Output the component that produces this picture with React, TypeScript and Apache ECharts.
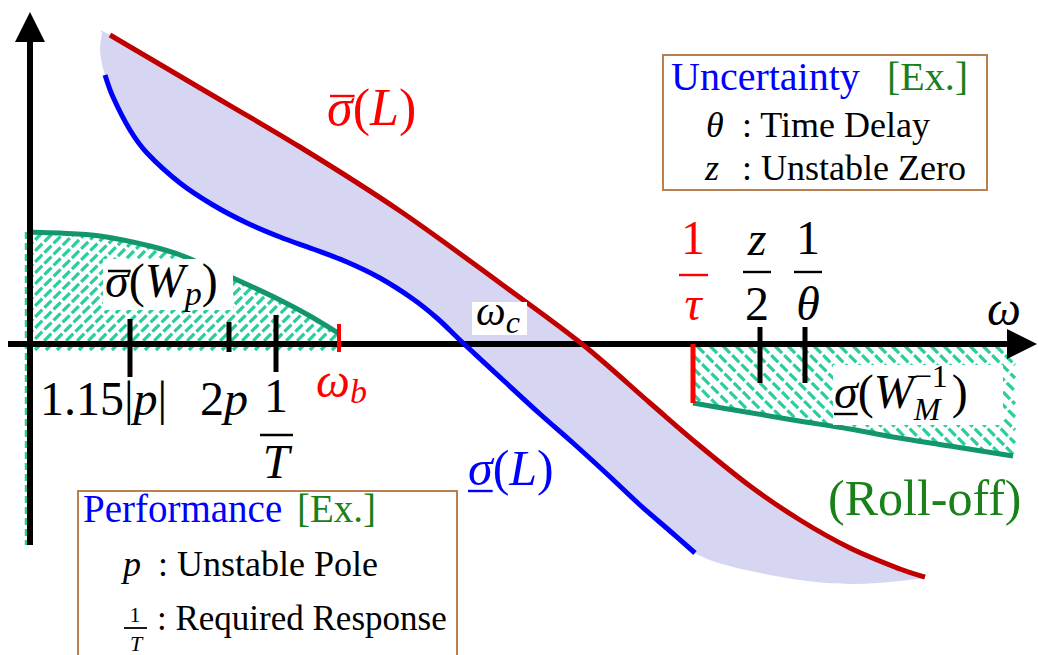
import React, { useEffect, useRef } from "react";
import * as echarts from "echarts";

// Frequency axis ω (horizontal) and gain (vertical), arbitrary log-like units.
// Upper singular value of the loop gain, σ̄(L)
const sigmaMaxL: [number, number][] = [
  [8.0, 30.9], [17.0, 25.6], [27.0, 19.7], [37.0, 13.3], [47.0, 6.1], [55.2, 0.0],
  [62.0, -5.9], [67.0, -10.2], [72.0, -14.2], [77.0, -17.6], [82.0, -20.4],
  [87.0, -22.5], [89.5, -23.3],
];
// Lower singular value of the loop gain, σ(L)
const sigmaMinL: [number, number][] = [
  [7.5, 26.9], [8.3, 24.7], [10.0, 21.4], [11.7, 19.1], [15.0, 16.1], [18.3, 13.9],
  [21.7, 12.1], [25.0, 10.7], [28.3, 9.5], [31.7, 8.2], [35.0, 6.6], [38.3, 4.5],
  [40.8, 2.5], [43.2, 0.2], [47.3, -3.6], [51.0, -7.0], [54.3, -9.9], [57.7, -13.0],
  [61.0, -16.1], [64.0, -18.7], [66.5, -20.9],
];
// Lower edge of the singular-value band beyond the end of σ(L)
const bandTail: [number, number][] = [
  [66.5, -20.9], [70.3, -22.3], [77.0, -23.6], [82.0, -24.0], [86.0, -23.8], [89.5, -23.4],
];
// Left cap of the band, from σ(L) up to σ̄(L)
const bandCap: [number, number][] = [[7.5, 26.9], [7.2, 28.0], [7.0, 29.5], [7.2, 31.1]];

// Performance weight σ̄(W_p) and uncertainty weight σ(W_M⁻¹)
const sigmaMaxWp: [number, number][] = [
  [-0.3, 11.2], [3.0, 11.1], [7.0, 10.8], [12.0, 9.8], [15.3, 8.8], [20.3, 6.6],
  [25.0, 4.4], [28.0, 2.8], [30.8, 1.1],
];
const sigmaMinWMinv: [number, number][] = [
  [66.3, -5.9], [71.0, -6.7], [76.3, -7.6], [82.0, -8.5], [86.3, -9.3], [92.0, -10.2], [98.3, -11.2],
];

// Marked frequencies on the ω axis
const tickLabels = ["1.15|p|", "2p", "1/T", "ω_b", "1/τ", "z/2", "1/θ"];
const tickOmega = [10.0, 19.9, 24.6, 30.9, 66.3, 73.0, 77.5];
// Regions on the ω axis
const perfRegion: [number, number] = [-0.4, 31.0];
const rolloffRegion: [number, number] = [66.3, 98.5];

// Axis extents
const omegaRange: [number, number] = [-2.2, 100.7];
const gainRange: [number, number] = [-20.1, 33.2];

// ---- styles ----
const tickStyle = [
  { up: 25, down: 33, color: "#000", w: 5 },
  { up: 22, down: 8, color: "#000", w: 5 },
  { up: 29, down: 28, color: "#000", w: 5 },
  { up: 20, down: 8, color: "#ff0000", w: 4 },
  { up: 0, down: 59, color: "#ff0000", w: 5 },
  { up: 17, down: 39, color: "#000", w: 5 },
  { up: 17, down: 39, color: "#000", w: 5 },
];
const RED_CURVE = "#c00000";
const BLUE = "#0000ff";
const BAND = "#d6d6f3";
const GREEN_CURVE = "#13966e";
const HATCH = "#2bcd9c";
const GREEN_TEXT = "#1a801a";
const BOX = "#b8804e";
const SERIF = '"Liberation Serif", "Times New Roman", serif';

type P = number[];

function bezierSegs(pts: P[]) {
  const segs: P[][] = [];
  for (let i = 0; i < pts.length - 1; i++) {
    const p0 = pts[Math.max(i - 1, 0)], p1 = pts[i], p2 = pts[i + 1], p3 = pts[Math.min(i + 2, pts.length - 1)];
    const c1 = [p1[0] + (p2[0] - p0[0]) / 6, p1[1] + (p2[1] - p0[1]) / 6];
    const c2 = [p2[0] - (p3[0] - p1[0]) / 6, p2[1] - (p3[1] - p1[1]) / 6];
    segs.push([p1, c1, c2, p2]);
  }
  return segs;
}
function pathThrough(pts: P[], move: boolean) {
  let d = `${move ? "M" : "L"}${pts[0][0]},${pts[0][1]}`;
  for (const [, c1, c2, p2] of bezierSegs(pts)) d += `C${c1[0]},${c1[1]},${c2[0]},${c2[1]},${p2[0]},${p2[1]}`;
  return d;
}
function sample(pts: P[], n = 10) {
  const out: P[] = [pts[0]];
  for (const [p1, c1, c2, p2] of bezierSegs(pts)) {
    for (let k = 1; k <= n; k++) {
      const t = k / n, u = 1 - t;
      const b = (i: number) => u * u * u * p1[i] + 3 * u * u * t * c1[i] + 3 * u * t * t * c2[i] + t * t * t * p2[i];
      out.push([b(0), b(1)]);
    }
  }
  return out;
}
// Diagonal hatch lines clipped to a polygon (pixel space); dir 1 → '/', -1 → '\'
function hatch(poly: P[], dir: number, period: number) {
  const vals = poly.map((p) => p[0] + dir * p[1]);
  const cmin = Math.min(...vals), cmax = Math.max(...vals);
  const lines: any[] = [];
  for (let c = Math.ceil(cmin / period) * period; c <= cmax; c += period) {
    const pts: P[] = [];
    for (let i = 0; i < poly.length; i++) {
      const a = poly[i], b = poly[(i + 1) % poly.length];
      const fa = a[0] + dir * a[1] - c, fb = b[0] + dir * b[1] - c;
      if ((fa < 0 && fb >= 0) || (fa >= 0 && fb < 0)) {
        const t = fa / (fa - fb);
        pts.push([a[0] + t * (b[0] - a[0]), a[1] + t * (b[1] - a[1])]);
      }
    }
    pts.sort((p, q) => p[0] - q[0]);
    for (let k = 0; k + 1 < pts.length; k += 2) {
      lines.push({
        type: "line",
        shape: { x1: pts[k][0], y1: pts[k][1], x2: pts[k + 1][0], y2: pts[k + 1][1] },
        style: { stroke: HATCH, lineWidth: 3.2, lineDash: [10, 3] },
      });
    }
  }
  return lines;
}

// ---- text layout helpers ----
const measureCtx = document.createElement("canvas").getContext("2d")!;
function measure(t: string, size: number, italic: boolean) {
  measureCtx.font = `${italic ? "italic " : ""}${size}px ${SERIF}`;
  return measureCtx.measureText(t).width;
}
type Piece = { t: string; it?: boolean; s?: number; dy?: number; adv?: number };
type Placed = { x: number; w: number };
function row(x: number, baseline: number, pieces: Piece[], color: string, size: number, align: "left" | "center" = "left") {
  const items = pieces.map((p) => {
    const s = p.s ?? size;
    return { ...p, s, w: p.adv ?? measure(p.t, s, !!p.it) };
  });
  const total = items.reduce((a, b) => a + b.w, 0);
  let cx = align === "center" ? x - total / 2 : x;
  const els: any[] = [];
  const placed: Placed[] = [];
  for (const p of items) {
    els.push({
      type: "text", x: cx, y: baseline + (p.dy ?? 0) - 0.3375 * p.s, z: 60, silent: true,
      style: {
        text: p.t, fill: color, fontSize: p.s, fontFamily: SERIF,
        fontStyle: p.it ? "italic" : "normal", textAlign: "left", textVerticalAlign: "middle",
      },
    });
    placed.push({ x: cx, w: measure(p.t, p.s, !!p.it) });
    cx += p.w;
  }
  return { els, placed };
}
const rect = (x: number, y: number, w: number, h: number, fill: string, stroke?: string, z = 55) => ({
  type: "rect", z, silent: true, shape: { x, y, width: w, height: h },
  style: { fill, stroke: stroke ?? null, lineWidth: stroke ? 2 : 0 },
});
const bar = (x1: number, x2: number, y: number, color: string, t = 2.4) => rect(x1, y - t / 2, x2 - x1, t, color, undefined, 61);

function buildGraphics() {
  const els: any[] = [];
  const M = 48;
  const add = (r: { els: any[] }) => els.push(...r.els);

  // σ̄(L)
  const sL = row(327, 125, [{ t: "σ", it: true }, { t: "(" }, { t: "L", it: true }, { t: ")" }], "#ff0000", 52);
  add(sL);
  els.push(bar(sL.placed[0].x + 3, sL.placed[0].x + sL.placed[0].w + 2, 96, "#ff0000"));
  // σ(L)
  const sl = row(468, 485, [{ t: "σ", it: true }, { t: "(" }, { t: "L", it: true }, { t: ")" }], BLUE, 50);
  add(sl);
  els.push(bar(sl.placed[0].x, sl.placed[0].x + sl.placed[0].w, 491, BLUE));
  // ω_c
  els.push(rect(472, 302, 55, 33, "#ffffff"));
  add(row(476, 325, [{ t: "ω", it: true }, { t: "c", it: true, s: 32, dy: 8 }], "#000", 42));
  // σ̄(W_p)
  els.push(rect(103, 259, 130, 51, "#ffffff"));
  const wp = row(105, 297, [{ t: "σ", it: true }, { t: "(" }, { t: "W", it: true }, { t: "p", it: true, s: 34, dy: 8 }, { t: ")" }], "#000", M);
  add(wp);
  els.push(bar(wp.placed[0].x + 3, wp.placed[0].x + wp.placed[0].w + 2, 271, "#000"));
  // σ(W_M^-1)
  els.push(rect(833, 365, 170, 60, "#ffffff"));
  const wm = row(834, 408, [
    { t: "σ", it: true }, { t: "(" }, { t: "W", it: true },
    { t: "−1", s: 32, dy: -21, adv: 0 }, { t: "M", it: true, s: 32, dy: 12, adv: 38 }, { t: ")" },
  ], "#000", M);
  add(wm);
  els.push(bar(wm.placed[0].x, wm.placed[0].x + wm.placed[0].w, 414, "#000"));

  // Tick labels on the ω axis
  add(row(40, 415, [{ t: "1.15" }, { t: "|" }, { t: "p", it: true }, { t: "|" }], "#000", M));
  add(row(200, 415, [{ t: "2" }, { t: "p", it: true }], "#000", M));
  add(row(276, 412, [{ t: "1" }], "#000", M, "center"));
  els.push(bar(260, 293, 435, "#000"));
  add(row(276, 478, [{ t: "T", it: true }], "#000", M, "center"));
  add(row(316, 397, [{ t: "ω", it: true }, { t: "b", it: true, s: 34, dy: 6 }], "#ff0000", M));
  add(row(693, 254, [{ t: "1" }], "#ff0000", M, "center"));
  els.push(bar(679, 708, 275, "#ff0000"));
  add(row(693, 320, [{ t: "τ", it: true }], "#ff0000", M, "center"));
  add(row(757, 255, [{ t: "z", it: true }], "#000", M, "center"));
  els.push(bar(743, 771, 272, "#000"));
  add(row(757, 320, [{ t: "2" }], "#000", M, "center"));
  add(row(808, 254, [{ t: "1" }], "#000", M, "center"));
  els.push(bar(794, 822, 272, "#000"));
  add(row(808, 320, [{ t: "θ", it: true }], "#000", M, "center"));
  add(row(987, 325, [{ t: "ω", it: true }], "#000", M));

  add(row(828, 515, [{ t: "(Roll-off)" }], GREEN_TEXT, 50));

  // Uncertainty box
  els.push(rect(663, 55, 324, 135, "#ffffff", BOX, 55));
  add(row(671, 90, [{ t: "Uncertainty" }], BLUE, 40));
  add(row(887, 90, [{ t: "[Ex.]" }], GREEN_TEXT, 40));
  add(row(706, 137, [{ t: "θ", it: true }], "#000", 36));
  add(row(742, 137, [{ t: ": Time Delay" }], "#000", 36));
  add(row(705, 180, [{ t: "z", it: true }], "#000", 36));
  add(row(742, 180, [{ t: ": Unstable Zero" }], "#000", 36));

  // Performance box
  els.push(rect(78, 491, 379, 200, "#ffffff", BOX, 55));
  add(row(83, 522, [{ t: "Performance" }], BLUE, 39));
  add(row(297, 522, [{ t: "[Ex.]" }], GREEN_TEXT, 39));
  add(row(123, 576, [{ t: "p", it: true }], "#000", 36));
  add(row(158, 576, [{ t: ": Unstable Pole" }], "#000", 36));
  add(row(135, 622, [{ t: "1" }], "#000", 22, "center"));
  els.push(bar(124, 147, 628, "#000", 1.8));
  add(row(136, 651, [{ t: "T", it: true }], "#000", 22, "center"));
  add(row(157, 630, [{ t: ": Required Response" }], "#000", 35));
  return els;
}

function buildOption(): echarts.EChartsOption {
  const one = [[0, 0]];
  return {
    animation: false,
    backgroundColor: "#ffffff",
    grid: { left: 0, right: 0, top: 0, bottom: 0 },
    xAxis: { type: "value", min: -3, max: 100.9, show: false },
    yAxis: { type: "value", min: -31.1, max: 34.4, show: false },
    series: [
      {
        // singular-value band between σ(L) and σ̄(L)
        type: "custom", name: "band", coordinateSystem: "cartesian2d", data: one, z: 1, silent: true,
        renderItem: (_p: any, api: any) => {
          const c = (p: P) => api.coord(p);
          const upper = [bandCap[3], ...sigmaMaxL].map(c);
          const lower = [...bandTail].reverse().concat([...sigmaMinL].reverse().slice(1)).map(c);
          const cap = bandCap.map(c);
          const d = pathThrough(upper, true) + pathThrough(lower, false) + pathThrough(cap, false).replace(/^L[^C]*/, "") + "Z";
          return { type: "path", shape: { pathData: d }, style: { fill: BAND, stroke: null } };
        },
      },
      {
        // hatched regions under σ̄(W_p) and above σ(W_M⁻¹)
        type: "custom", name: "hatch", coordinateSystem: "cartesian2d", data: one, z: 2, silent: true,
        renderItem: (_p: any, api: any) => {
          const c = (p: P) => api.coord(p);
          const wp = sample(sigmaMaxWp.map(c));
          const left = [c([perfRegion[0], -0.6]), c([perfRegion[0], sigmaMaxWp[0][1]]), ...wp,
            c([perfRegion[1], sigmaMaxWp[sigmaMaxWp.length - 1][1]]), c([perfRegion[1], -0.6])];
          const wm = sample(sigmaMinWMinv.map(c));
          const right = [c([rolloffRegion[0], -0.2]), c([rolloffRegion[1], -0.2]),
            c([rolloffRegion[1], sigmaMinWMinv[sigmaMinWMinv.length - 1][1]]), ...[...wm].reverse()];
          const top = c([perfRegion[0], sigmaMaxWp[0][1]]);
          const bottom = c([perfRegion[0], gainRange[0]]);
          return {
            type: "group",
            children: [
              ...hatch(left, 1, 11),
              ...hatch(right, -1, 13),
              { type: "line", shape: { x1: top[0], y1: top[1], x2: bottom[0], y2: bottom[1] },
                style: { stroke: HATCH, lineWidth: 2.5, lineDash: [7, 4] } },
              { type: "path", shape: { pathData: pathThrough(sigmaMaxWp.map(c), true) },
                style: { fill: null, stroke: GREEN_CURVE, lineWidth: 5 } },
              { type: "path", shape: { pathData: pathThrough(sigmaMinWMinv.map(c), true) },
                style: { fill: null, stroke: GREEN_CURVE, lineWidth: 5 } },
            ],
          };
        },
      },
      {
        // ω axis and gain axis with arrow heads
        type: "custom", name: "axes", coordinateSystem: "cartesian2d", data: one, z: 4, silent: true,
        renderItem: (_p: any, api: any) => {
          const h0 = api.coord([omegaRange[0], 0]);
          const h1 = api.coord([omegaRange[1], 0]);
          const v0 = api.coord([0, gainRange[0]]);
          const v1 = api.coord([0, gainRange[1]]);
          const L = 30, W = 15;
          return {
            type: "group",
            children: [
              { type: "line", shape: { x1: h0[0], y1: h0[1], x2: h1[0] - L + 2, y2: h1[1] }, style: { stroke: "#000", lineWidth: 6 } },
              { type: "polygon", shape: { points: [[h1[0], h1[1]], [h1[0] - L, h1[1] - W], [h1[0] - L, h1[1] + W]] }, style: { fill: "#000" } },
              { type: "line", shape: { x1: v0[0], y1: v0[1], x2: v1[0], y2: v1[1] + L - 2 }, style: { stroke: "#000", lineWidth: 6 } },
              { type: "polygon", shape: { points: [[v1[0], v1[1]], [v1[0] - W, v1[1] + L], [v1[0] + W, v1[1] + L]] }, style: { fill: "#000" } },
            ],
          };
        },
      },
      {
        type: "custom", name: "σ̄(L), σ(L)", coordinateSystem: "cartesian2d", data: one, z: 5, silent: true,
        renderItem: (_p: any, api: any) => {
          const c = (p: P) => api.coord(p);
          return {
            type: "group",
            children: [
              { type: "path", shape: { pathData: pathThrough(sigmaMaxL.map(c), true) }, style: { fill: null, stroke: RED_CURVE, lineWidth: 5 } },
              { type: "path", shape: { pathData: pathThrough(sigmaMinL.map(c), true) }, style: { fill: null, stroke: BLUE, lineWidth: 5 } },
            ],
          };
        },
      },
      {
        type: "custom", name: "ticks", coordinateSystem: "cartesian2d", data: one, z: 6, silent: true,
        renderItem: (_p: any, api: any) => ({
          type: "group",
          children: tickOmega.map((w, i) => {
            const p = api.coord([w, 0]);
            const s = tickStyle[i];
            return { type: "line", name: tickLabels[i], shape: { x1: p[0], y1: p[1] - s.up, x2: p[0], y2: p[1] + s.down }, style: { stroke: s.color, lineWidth: s.w } };
          }),
        }),
      },
    ],
    graphic: { elements: buildGraphics() },
  } as any;
}

export default function App() {
  const ref = useRef<HTMLDivElement>(null);
  useEffect(() => {
    if (!ref.current) return;
    const chart = echarts.init(ref.current, null, { renderer: "svg" });
    chart.setOption(buildOption());
    return () => chart.dispose();
  }, []);
  return <div ref={ref} style={{ position: "fixed", left: 0, top: 0, width: 1039, height: 655, background: "#fff" }} />;
}
